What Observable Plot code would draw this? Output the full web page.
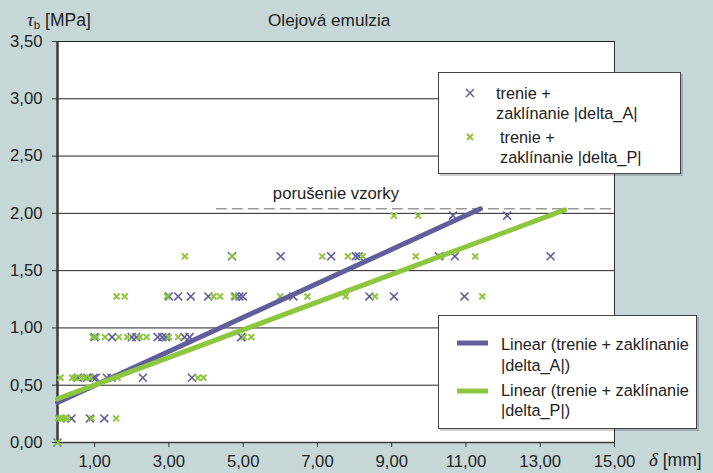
<!DOCTYPE html>
<html><head><meta charset="utf-8">
<script src="https://cdn.jsdelivr.net/npm/d3@7"></script>
<script src="https://cdn.jsdelivr.net/npm/@observablehq/plot@0.6"></script>
<style>
html,body{margin:0;padding:0;background:#c6d7d8;}
#wrap{position:relative;width:713px;height:473px;overflow:hidden;font-family:"Liberation Sans",Arial,sans-serif;font-size:16.3px;color:#222;}
#wrap svg{position:absolute;left:0;top:0;}
.t{position:absolute;white-space:nowrap;line-height:20px;}
.lg{position:absolute;background:#fff;border:1px solid #444;box-shadow:2px 2px 0 rgba(0,0,0,0.18);}
.lg svg{position:absolute;left:0;top:0;}
.gr{font-family:"Liberation Serif","Times New Roman",serif;font-style:italic;font-size:19px;}
</style></head><body>
<div id="wrap">
  <div class="t" style="left:268px;top:10px;font-size:17.2px;">Olejová emulzia</div>
  <div class="t" style="left:27px;top:10px;font-size:17.5px;"><span class="gr">τ</span><sub style="font-size:11.5px;vertical-align:-3px">b</sub> [MPa]</div>
  <div class="t" style="left:649px;top:450px;font-size:17.5px;"><span class="gr">δ</span> [mm]</div>
</div>
<script>
const purple = "#615e9b";
const green = "#8dc63f";

// y levels of measured points
const levelsY = [0, 0.21, 0.565, 0.92, 1.275, 1.625, 1.98];
// x values (delta, mm) at each level, series "trenie + zaklínanie |delta_A|"
const deltaA = [
  [0],
  [0.08, 0.38, 0.87, 1.26],
  [0.55, 0.80, 0.97, 1.03, 1.33, 1.45, 2.30, 3.62],
  [1.00, 1.47, 2.00, 2.12, 2.70, 2.82, 2.92, 3.42, 3.56, 4.95],
  [3.00, 3.25, 3.59, 4.06, 4.79, 4.90, 4.99, 6.35, 8.40, 9.06, 10.96],
  [4.70, 6.01, 7.37, 8.03, 8.11, 10.27, 10.70, 13.28],
  [10.65, 12.11]
];
// series "trenie + zaklínanie |delta_P|"
const deltaP = [
  [0],
  [0.02, 0.10, 0.18, 0.26, 0.92, 1.58],
  [0.08, 0.40, 0.48, 0.64, 0.75, 0.88, 1.62, 3.78, 3.93],
  [0.95, 1.05, 1.28, 1.65, 1.88, 2.22, 2.40, 3.00, 3.25, 5.02, 5.22],
  [1.59, 1.81, 2.95, 4.20, 4.38, 4.75, 6.00, 6.73, 7.76, 8.55, 11.44],
  [3.43, 4.70, 7.13, 7.82, 8.22, 9.65, 10.33, 11.25],
  [9.06, 9.71]
];
// linear trend lines (endpoints)
const trendAX = [0, 11.39], trendAY = [0.35, 2.04];
const trendPX = [0, 13.66], trendPY = [0.38, 2.03];
// failure threshold line
const failX = [4.28, 15], failY = 2.04;
const failLabel = "porušenie vzorky";
const failLabelX = 5.8;

const xTicks = [1, 3, 5, 7, 9, 11, 13, 15];
const yTicks = [0, 0.5, 1, 1.5, 2, 2.5, 3, 3.5];

const fmt = d => d.toFixed(2).replace(".", ",");
const toRows = arr => arr.flatMap((xs, i) => xs.map(x => ({x, y: levelsY[i]})));
const ptsA = toRows(deltaA), ptsP = toRows(deltaP);
const lineA = trendAX.map((x, i) => ({x, y: trendAY[i]}));
const lineP = trendPX.map((x, i) => ({x, y: trendPY[i]}));
const failLine = failX.map(x => ({x, y: failY}));

const chart = Plot.plot({
  width: 713, height: 473,
  marginLeft: 57, marginRight: 99, marginTop: 41, marginBottom: 31,
  style: {background: "transparent", fontFamily: "Liberation Sans, Arial, sans-serif", fontSize: "16.7px", color: "#222"},
  x: {domain: [0, 15]},
  y: {domain: [0, 3.5]},
  marks: [
    Plot.frame({fill: "white", stroke: "#333", strokeWidth: 1}),
    Plot.ruleY(yTicks.filter(d => d > 0), {stroke: "#222", strokeWidth: 1}),
    Plot.ruleX([0], {stroke: "#3a3a3a", strokeWidth: 2.5}),
    Plot.ruleY([0], {stroke: "#3a3a3a", strokeWidth: 1.5}),
    Plot.line(failLine, {x: "x", y: "y", stroke: "#999", strokeWidth: 1.5, strokeDasharray: "10,6"}),
    Plot.text([failLabel], {x: failLabelX, y: failY, text: d => d, textAnchor: "start", dy: -15, fontSize: 16.7, fill: "#222"}),
    Plot.dot(ptsA, {x: "x", y: "y", symbol: "times", r: 3.7, stroke: purple, strokeWidth: 1.6}),
    Plot.dot(ptsP, {x: "x", y: "y", symbol: "times", r: 2.8, stroke: green, strokeWidth: 2}),
    Plot.line(lineA, {x: "x", y: "y", stroke: purple, strokeWidth: 5}),
    Plot.line(lineP, {x: "x", y: "y", stroke: green, strokeWidth: 5}),
    Plot.axisX({ticks: xTicks, tickFormat: fmt, tickSize: 5, tickPadding: 8, label: null, stroke: "#333"}),
    Plot.axisY({ticks: yTicks, tickFormat: fmt, tickSize: 5, tickPadding: 10, label: null, stroke: "#333"})
  ]
});
const wrap = document.getElementById("wrap");
wrap.insertBefore(chart, wrap.firstChild);

// legends (HTML overlays)
function legend(left, top, w, h, items) {
  const box = document.createElement("div");
  box.className = "lg";
  box.style.cssText = `left:${left}px;top:${top}px;width:${w}px;height:${h}px;`;
  const ns = "http://www.w3.org/2000/svg";
  const svg = document.createElementNS(ns, "svg");
  svg.setAttribute("width", w); svg.setAttribute("height", h);
  box.appendChild(svg);
  for (const it of items) {
    if (it.kind === "x") {
      const p = document.createElementNS(ns, "path");
      const r = it.r;
      p.setAttribute("d", `M${it.sx - r},${it.sy - r}L${it.sx + r},${it.sy + r}M${it.sx - r},${it.sy + r}L${it.sx + r},${it.sy - r}`);
      p.setAttribute("stroke", it.color); p.setAttribute("stroke-width", it.sw); p.setAttribute("fill", "none");
      svg.appendChild(p);
    } else {
      const l = document.createElementNS(ns, "line");
      l.setAttribute("x1", it.sx); l.setAttribute("x2", it.sx + 31);
      l.setAttribute("y1", it.sy); l.setAttribute("y2", it.sy);
      l.setAttribute("stroke", it.color); l.setAttribute("stroke-width", 5);
      svg.appendChild(l);
    }
    it.lines.forEach((txt, i) => {
      const d = document.createElement("div");
      d.className = "t";
      d.style.left = it.tx + "px";
      d.style.top = (it.ty + i * it.lh - 10) + "px";
      d.textContent = txt;
      box.appendChild(d);
    });
  }
  wrap.appendChild(box);
}
legend(438, 72, 241, 100, [
  {kind: "x", color: purple, r: 4, sw: 1.5, sx: 31, sy: 20, tx: 57, ty: 20, lh: 20, lines: ["trenie +", "zaklínanie |delta_A|"]},
  {kind: "x", color: green, r: 3, sw: 2, sx: 31, sy: 64, tx: 61, ty: 64, lh: 20, lines: ["trenie +", "zaklínanie |delta_P|"]}
]);
legend(438, 315, 257, 112, [
  {kind: "l", color: purple, sx: 18, sy: 27, tx: 62, ty: 28, lh: 21, lines: ["Linear (trenie + zaklínanie", "|delta_A|)"]},
  {kind: "l", color: green, sx: 18, sy: 75, tx: 62, ty: 74, lh: 20, lines: ["Linear (trenie + zaklínanie", "|delta_P|)"]}
]);
</script>
</body></html>
